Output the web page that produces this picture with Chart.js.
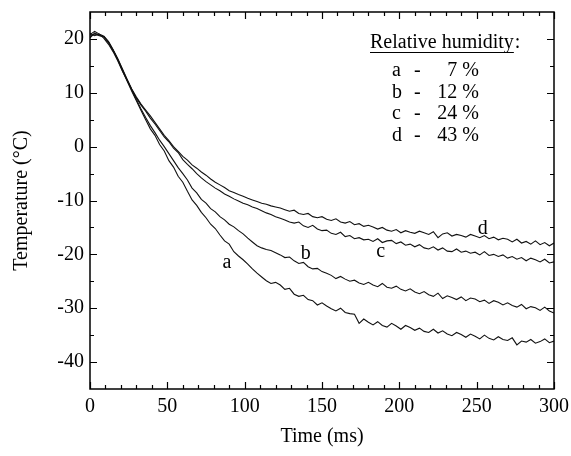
<!DOCTYPE html>
<html>
<head>
<meta charset="utf-8">
<script src="https://cdn.jsdelivr.net/npm/chart.js@4.4.1/dist/chart.umd.min.js"></script>
<style>
  html, body { margin: 0; padding: 0; background: #fff; }
  canvas { display: block; }
</style>
</head>
<body>
<canvas id="grafico" width="571" height="456"></canvas>
<script>
// -----------------------------
// Datos
// -----------------------------
const tiempos = [0,3,6,9,12,15,18,21,24,27,30,33,36,39,42,45,48,51,54,57,60,
  63,66,69,72,75,78,81,84,87,90,93,96,99,102,105,108,111,114,117,120,
  123,126,129,132,135,138,141,144,147,150,153,156,159,162,165,168,171,174,177,180,
  183,186,189,192,195,198,201,204,207,210,213,216,219,222,225,228,231,234,237,240,
  243,246,249,252,255,258,261,264,267,270,273,276,279,282,285,288,291,294,297,300];

// a - 7 %
const serieA = [20.2,21.1,20.7,20.4,19.3,17.8,16.1,14.1,12.2,10.3,8.5,
  6.7,5.0,3.3,2.1,0.4,-0.8,-2.6,-3.8,-5.5,-6.6,
  -8.3,-9.9,-10.9,-12.2,-13.2,-14.4,-15.2,-16.4,-17.5,-18.1,
  -19.5,-20.3,-21.0,-21.8,-22.7,-23.5,-24.2,-24.9,-25.4,-25.2,
  -25.7,-26.5,-26.3,-27.4,-27.8,-27.6,-28.4,-28.6,-29.4,-29.0,
  -29.6,-30.1,-30.5,-30.0,-30.8,-31.0,-31.1,-32.8,-32.0,-32.6,
  -33.1,-32.5,-33.2,-33.5,-32.8,-33.3,-33.9,-33.2,-33.6,-34.1,
  -33.7,-34.3,-34.5,-33.9,-34.6,-34.2,-34.8,-35.1,-34.5,-34.9,
  -35.4,-34.8,-35.2,-35.7,-35.0,-35.6,-35.9,-35.3,-35.8,-36.0,
  -35.5,-36.8,-36.1,-36.3,-35.8,-36.5,-36.2,-35.7,-36.4,-36.1];
// b - 12 %
const serieB = [20.8,21.4,20.9,20.1,19.0,17.6,15.9,14.0,12.3,10.5,8.7,
  7.0,5.4,3.9,2.6,1.2,0.0,-1.3,-2.6,-3.9,-5.0,
  -6.2,-7.7,-8.6,-9.8,-10.5,-11.5,-12.1,-13.0,-13.6,-14.4,
  -14.9,-15.6,-16.2,-17.0,-17.7,-18.4,-18.8,-19.1,-19.3,-19.7,
  -20.1,-20.6,-20.5,-21.2,-21.7,-21.5,-22.3,-22.7,-22.6,-23.2,
  -23.5,-23.9,-24.5,-24.1,-24.6,-25.0,-24.8,-25.3,-25.6,-25.2,
  -25.7,-26.0,-25.4,-26.1,-26.3,-25.9,-26.5,-26.8,-26.4,-27.0,
  -27.3,-26.9,-27.5,-27.8,-27.2,-28.2,-27.7,-28.0,-28.4,-27.9,
  -28.6,-28.1,-28.3,-28.8,-28.5,-29.1,-28.6,-28.9,-29.4,-29.0,
  -29.5,-29.8,-29.3,-30.1,-29.7,-29.9,-30.4,-29.8,-30.5,-30.9];
// c - 24 %
const serieC = [20.5,20.9,20.6,20.4,19.4,17.9,16.2,14.3,12.4,10.6,9.0,
  7.7,6.6,5.3,4.2,3.0,1.8,0.9,-0.3,-1.1,-2.4,
  -3.3,-4.1,-5.0,-5.8,-6.5,-7.1,-7.7,-8.2,-8.8,-9.2,
  -9.7,-10.1,-10.5,-10.8,-11.2,-11.5,-11.9,-12.3,-12.6,-13.0,
  -13.3,-13.6,-14.0,-14.2,-14.0,-14.7,-15.0,-14.6,-15.3,-15.6,
  -15.5,-16.1,-16.3,-15.9,-16.7,-16.5,-17.1,-16.9,-17.3,-17.2,
  -17.6,-17.1,-17.8,-17.5,-17.4,-18.0,-17.7,-18.3,-18.1,-18.6,
  -18.2,-18.8,-19.0,-18.6,-19.2,-18.8,-19.4,-19.5,-19.0,-19.6,
  -19.4,-19.8,-19.6,-20.1,-19.5,-20.2,-20.0,-20.4,-20.1,-20.7,
  -20.4,-20.9,-20.6,-21.2,-20.7,-21.0,-21.4,-20.9,-21.6,-21.4];
// d - 43 %
const serieD = [21.0,20.6,20.9,20.5,19.5,18.0,16.3,14.4,12.5,10.7,9.2,
  7.9,6.8,5.7,4.5,3.3,2.1,1.1,0.0,-0.9,-1.8,
  -2.5,-3.4,-4.0,-4.7,-5.3,-6.0,-6.6,-7.1,-7.6,-8.2,
  -8.5,-8.9,-9.2,-9.6,-9.9,-10.2,-10.5,-10.7,-11.0,-11.2,
  -11.4,-11.7,-12.0,-11.8,-12.4,-12.6,-12.4,-13.0,-13.2,-13.0,
  -13.5,-13.7,-13.4,-14.0,-14.2,-13.9,-14.5,-14.3,-14.8,-14.6,
  -14.9,-15.3,-15.0,-15.5,-15.7,-15.4,-16.0,-15.6,-15.9,-16.1,
  -15.7,-16.0,-16.3,-15.8,-16.9,-16.2,-16.0,-16.6,-16.3,-16.5,
  -16.8,-16.3,-16.6,-16.9,-16.5,-17.1,-16.8,-17.3,-17.0,-17.2,
  -17.7,-17.2,-17.9,-17.6,-18.1,-17.5,-18.2,-17.8,-18.4,-17.9];

const letras = ['a', 'b', 'c', 'd'];
const humedades = ['7 %', '12 %', '24 %', '43 %'];
const ticksX = [0, 50, 100, 150, 200, 250, 300];
const ticksY = [-40, -30, -20, -10, 0, 10, 20];

// donde va cada letra sobre su curva (en unidades de datos)
const posLetras = [[88.5, -21.5], [139.5, -19.8], [188, -19.6], [254, -15.2]];

const FUENTE = '"Liberation Serif", "Times New Roman", serif';

// -----------------------------
// Plugin: marco, ticks hacia adentro y textos
// -----------------------------
const marco = {
  id: 'marco',
  afterDatasetsDraw(chart) {
    const { ctx, chartArea: a, scales: { x, y } } = chart;
    ctx.save();
    ctx.strokeStyle = '#000';
    ctx.lineWidth = 1.5;
    ctx.strokeRect(a.left, a.top, a.right - a.left, a.bottom - a.top);

    ctx.lineWidth = 1.2;
    ctx.beginPath();
    for (let v = 0; v <= 300; v += 10) {
      const px = Math.round(x.getPixelForValue(v)) + 0.5;
      const largo = v % 50 === 0 ? 7 : 4;
      ctx.moveTo(px, a.bottom); ctx.lineTo(px, a.bottom - largo);
      ctx.moveTo(px, a.top); ctx.lineTo(px, a.top + largo);
    }
    for (let v = -40; v <= 20; v += 5) {
      const py = Math.round(y.getPixelForValue(v)) + 0.5;
      const largo = v % 10 === 0 ? 7 : 4;
      ctx.moveTo(a.left, py); ctx.lineTo(a.left + largo, py);
      ctx.moveTo(a.right, py); ctx.lineTo(a.right - largo, py);
    }
    ctx.stroke();

    // letras sobre las curvas
    ctx.fillStyle = '#000';
    ctx.font = '20px ' + FUENTE;
    ctx.textAlign = 'center';
    ctx.textBaseline = 'middle';
    letras.forEach((l, i) => {
      ctx.fillText(l, x.getPixelForValue(posLetras[i][0]), y.getPixelForValue(posLetras[i][1]));
    });

    // leyenda
    ctx.textBaseline = 'alphabetic';
    ctx.textAlign = 'left';
    const titulo = 'Relative humidity';
    const lx = 370, ly = 48;
    ctx.fillText(titulo, lx, ly);
    const w = ctx.measureText(titulo).width;
    ctx.fillText(':', lx + w + 1, ly);
    ctx.lineWidth = 1;
    ctx.beginPath();
    ctx.moveTo(lx, ly + 4.5); ctx.lineTo(lx + w, ly + 4.5);
    ctx.stroke();
    letras.forEach((l, i) => {
      const fy = 76 + i * 21.5;
      ctx.textAlign = 'left';
      ctx.fillText(l, 392, fy);
      ctx.fillText('-', 414, fy);
      ctx.textAlign = 'right';
      ctx.fillText(humedades[i], 479, fy);
    });
    ctx.restore();
  }
};

const series = [serieA, serieB, serieC, serieD];
const datasets = series.map((s, i) => ({
  label: letras[i],
  data: tiempos.map((t, j) => ({ x: t, y: s[j] })),
  borderColor: '#111',
  borderWidth: 1.1,
  pointRadius: 0,
  tension: 0,
  fill: false
}));

new Chart(document.getElementById('grafico'), {
  type: 'line',
  data: { datasets },
  options: {
    responsive: false,
    animation: false,
    devicePixelRatio: 1,
    layout: { padding: { top: 12, right: 17, left: 0, bottom: 0 } },
    plugins: { legend: { display: false }, tooltip: { enabled: false } },
    scales: {
      x: {
        type: 'linear',
        min: 0, max: 300,
        afterBuildTicks: s => { s.ticks = ticksX.map(v => ({ value: v })); },
        afterFit: s => { s.height = 67; s.paddingLeft = 0; s.paddingRight = 0; },
        grid: { display: false, drawTicks: false },
        border: { display: false },
        ticks: { color: '#000', padding: 6, maxRotation: 0, font: { family: FUENTE, size: 20 } },
        title: { display: true, text: 'Time (ms)', color: '#000', padding: { top: 0, bottom: 7 },
                 font: { family: FUENTE, size: 20 } }
      },
      y: {
        type: 'linear',
        min: -45, max: 25,
        afterBuildTicks: s => { s.ticks = ticksY.map(v => ({ value: v })); },
        afterFit: s => { s.width = 90; s.paddingTop = 0; s.paddingBottom = 0; },
        grid: { display: false, drawTicks: false },
        border: { display: false },
        ticks: { color: '#000', padding: 6, font: { family: FUENTE, size: 20 } },
        title: { display: true, text: 'Temperature (°C)', color: '#000', padding: { top: 10, bottom: 0 },
                 font: { family: FUENTE, size: 20 } }
      }
    }
  },
  plugins: [marco]
});
</script>
</body>
</html>
